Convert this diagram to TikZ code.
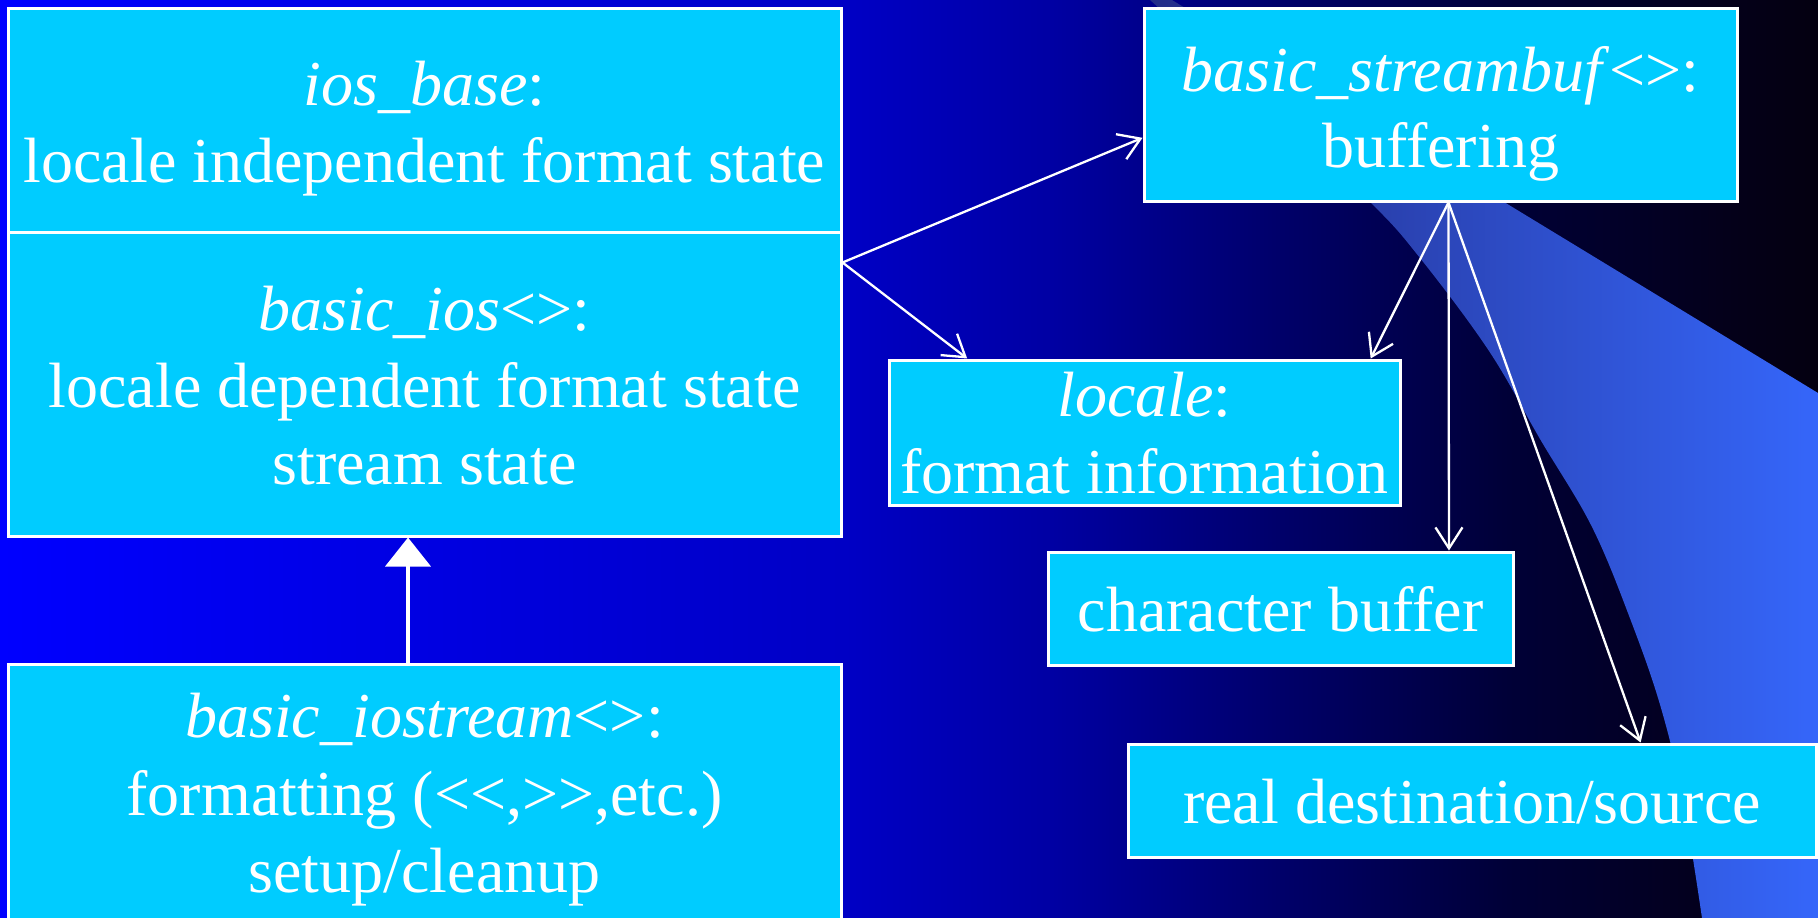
\documentclass[tikz,border=0pt]{standalone}
\usepackage{fontspec}
\setmainfont{Liberation Serif}
\usetikzlibrary{arrows.meta,calc}

\definecolor{boxcyan}{RGB}{0,204,255}
\definecolor{swA}{RGB}{36,45,135}
\definecolor{swB}{RGB}{53,102,250}

% slide background: bright blue on the left fading to near black on the right
\pgfdeclarehorizontalshading{slidebg}{100bp}{%
  rgb(0bp)=(0,0,1); rgb(25bp)=(0,0,1);
  rgb(48.4bp)=(0,0,0.770); rgb(53.9bp)=(0,0,0.640);
  rgb(60bp)=(0,0,0.42); rgb(66.5bp)=(0,0,0.215);
  rgb(72.9bp)=(0.016,0,0.094); rgb(75bp)=(0.016,0,0.063);
  rgb(100bp)=(0.016,0,0.063)}

\begin{document}
\begin{tikzpicture}[x=1pt,y=-1pt,
  box/.style={draw=white, line width=3pt, fill=boxcyan, inner sep=0pt},
  txt/.style={text=white, inner sep=0pt, anchor=base,
              font=\fontsize{64}{77}\selectfont},
  conn/.style={draw=white, line width=2.3pt,
               -{Straight Barb[length=21pt,width=27pt]}},
  inh/.style={draw=white, line width=4pt,
              -{Triangle[length=29pt,width=45pt]}}]

\useasboundingbox (0,0) rectangle (1818,918);
\begin{scope}
\clip (0,0) rectangle (1818,918);

% background and decorative swoosh
\shade[shading=slidebg] (0,0) rectangle (1818,918);
\shade[left color=swA, right color=swB]
  plot[smooth, tension=0.6] coordinates {(1150,0) (1260,100) (1370,202)
    (1420,258) (1489,351) (1540,439) (1592,527) (1631,621) (1661,708)
    (1683,800) (1702,918)}
  -- (1818,918) -- (1818,393) -- (1172,0) -- cycle;

% class boxes
\node[box, minimum width=833pt, minimum height=224pt] (iosb) at (424.5,120) {};
\node[box, minimum width=833pt, minimum height=304pt] (ios)  at (424.5,384) {};
\node[box, minimum width=833pt, minimum height=276pt] (iostr) at (424.5,802) {};
\node[box, minimum width=593pt, minimum height=193pt] (sb)   at (1440.5,104.5) {};
\node[box, minimum width=511pt, minimum height=145pt] (loc)  at (1144.5,432.5) {};
\node[box, minimum width=465pt, minimum height=113pt] (cbuf) at (1280.5,608.5) {};
\node[box, minimum width=688pt, minimum height=113pt] (real) at (1472,800.5) {};

% box texts
\node[txt] (t1)  at (424.5,105) {\textit{ios\_base}:};
\node[txt] (t2)  at (424.5,182) {locale independent format state};
\node[txt] (t3)  at (424.5,330) {\textit{basic\_ios}<>:};
\node[txt] (t4)  at (424.5,407) {locale dependent format state};
\node[txt] (t5)  at (424.5,484) {stream state};
\node[txt] (t6)  at (424.5,737) {\textit{basic\_iostream}<>:};
\node[txt] (t7)  at (424.5,815) {formatting (<\kern0pt<,>\kern0pt>,etc.)};
\node[txt] (t8)  at (424.5,892) {setup/cleanup};
\node[txt] (t9)  at (1440.5,91) {\textit{basic\_streambuf}<>:};
\node[txt] (t10) at (1440.5,167) {buffering};
\node[txt] (t11) at (1144.5,416) {\textit{locale}:};
\node[txt] (t12) at (1144.5,493) {format information};
\node[txt] (t13) at (1280.5,631) {character buffer};
\node[txt] (t14) at (1472,823) {real destination/source};

% connector end points
\coordinate (fork)  at ($(ios.north east)+(0,32)$);
\coordinate (sbout) at ($(sb.south)+(8,0)$);
\coordinate (inhfrom) at ($(iostr.north)+(-16.5,0)$);
\coordinate (inhto)   at ($(ios.south)+(-16.5,0)$);

% inheritance
\draw[inh] (inhfrom) -- (inhto);

% uses / owns
\draw[conn] (fork) -- ($(sb.north west)!0.67!(sb.south west)$);
\draw[conn] (fork) -- ($(loc.north west)!0.155!(loc.north east)$);
\draw[conn] (sbout) -- ($(loc.north west)!0.94!(loc.north east)$);
\draw[conn] (sbout) -- ($(cbuf.north west)!0.86!(cbuf.north east)$);
\draw[conn] (sbout) -- ($(real.north west)!0.744!(real.north east)$);
\end{scope}
\end{tikzpicture}
\end{document}
